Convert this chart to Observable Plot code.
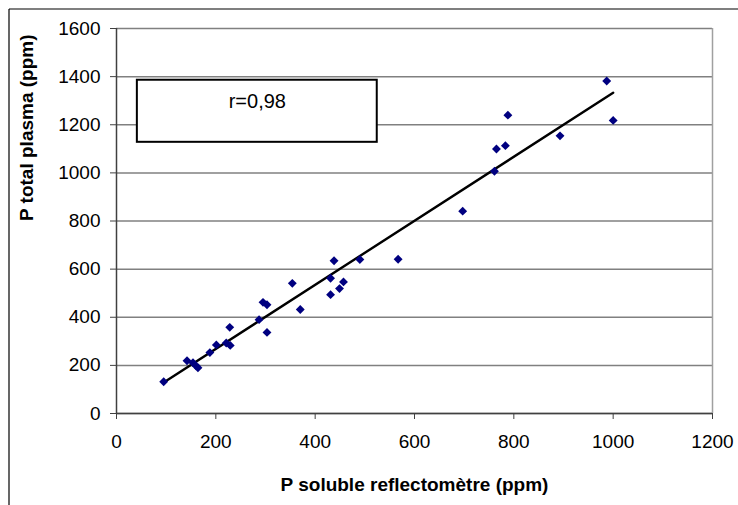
<!DOCTYPE html>
<html>
<head>
<meta charset="utf-8">
<script src="https://cdn.jsdelivr.net/npm/d3@7"></script>
<script src="https://cdn.jsdelivr.net/npm/@observablehq/plot@0.6"></script>
<style>
  html, body { margin: 0; padding: 0; background: #fff; }
  #chart { width: 738px; height: 505px; }
</style>
</head>
<body>
<div id="chart"></div>
<script>
// Data
const solubleP = [95, 142, 154, 160, 164, 188, 201, 221, 229, 228, 287, 295, 303, 303, 354, 370, 431, 431, 438, 449, 457, 490, 567, 697, 761, 765, 783, 788, 893, 987, 1000];
const totalP   = [132, 219, 211, 198, 190, 253, 285, 293, 283, 358, 390, 462, 452, 337, 541, 432, 494, 562, 635, 519, 547, 640, 641, 841, 1007, 1099, 1113, 1240, 1154, 1382, 1218];

// Regression line end points (as drawn)
const fitX = [95, 1000];
const fitY = [129, 1333];

const xTicks = [0, 200, 400, 600, 800, 1000, 1200];
const yTicks = [0, 200, 400, 600, 800, 1000, 1200, 1400, 1600];

const annotationText = "r=0,98";
const xTitle = "P soluble reflectomètre (ppm)";
const yTitle = "P total plasma (ppm)";

const points = solubleP.map((x, i) => ({x, y: totalP[i]}));
const fit = fitX.map((x, i) => ({x, y: fitY[i]}));
const box = [{x1: 42, x2: 525, y1: 1127, y2: 1385}];

const font = "'Liberation Sans', Arial, sans-serif";

const chart = Plot.plot({
  width: 738,
  height: 505,
  marginLeft: 116,
  marginRight: 26,
  marginTop: 28,
  marginBottom: 92,
  style: {fontFamily: font, fontSize: "19px", background: "#fff", color: "#000"},
  x: {domain: [0, 1200]},
  y: {domain: [0, 1600]},
  marks: [
    Plot.gridY(yTicks, {stroke: "#808080", strokeOpacity: 1, strokeWidth: 1.5}),
    Plot.ruleX([1200], {stroke: "#a0a0a0", strokeWidth: 1.5}),
    Plot.axisY(yTicks, {tickSize: 6, tickPadding: 10, label: null, fontSize: 19, stroke: "#404040", tickFormat: d => String(d)}),
    Plot.axisX(xTicks, {tickSize: 6, tickPadding: 15, label: null, fontSize: 19, stroke: "#404040", tickFormat: d => String(d)}),
    Plot.ruleX([0], {stroke: "#404040", strokeWidth: 1.5}),
    Plot.ruleY([0], {stroke: "#404040", strokeWidth: 1.5}),
    Plot.rect(box, {x1: "x1", x2: "x2", y1: "y1", y2: "y2", fill: "#fff", stroke: "#000", strokeWidth: 2}),
    Plot.text(box, {x: d => (d.x1 + d.x2) / 2, y: d => d.y2, dy: 21, text: () => annotationText, fontSize: 20, fill: "#000"}),
    Plot.line(fit, {x: "x", y: "y", stroke: "#000", strokeWidth: 2.4}),
    Plot.dot(points, {x: "x", y: "y", symbol: "diamond2", r: 4, fill: "#000080", stroke: "none"}),
    Plot.text([xTitle], {frameAnchor: "bottom", dy: 77, text: d => d, fontWeight: "bold", fontSize: 19, fill: "#000"}),
    Plot.text([yTitle], {frameAnchor: "left", dx: -90, rotate: -90, text: d => d, fontWeight: "bold", fontSize: 19, fill: "#000"})
  ]
});

// Outer chart-area border (top and left edges visible in the reference)
const svg = d3.select(chart);
svg.append("line").attr("x1", 9).attr("y1", 9).attr("x2", 738).attr("y2", 9).attr("stroke", "#000").attr("stroke-width", 1.2);
svg.append("line").attr("x1", 9).attr("y1", 9).attr("x2", 9).attr("y2", 505).attr("stroke", "#000").attr("stroke-width", 1.2);

document.getElementById("chart").appendChild(chart);
</script>
</body>
</html>
